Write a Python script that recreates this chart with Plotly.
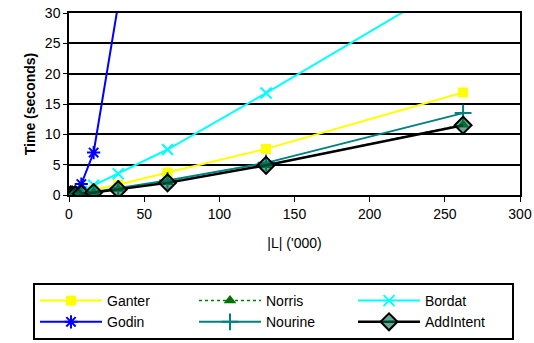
import plotly.graph_objects as go

x_vals = [1.024, 2.048, 4.096, 8.192, 16.384, 32.768, 65.536, 131.072, 262.144]
ganter = [0.02, 0.05, 0.1, 0.4, 0.8, 1.7, 3.7, 7.6, 16.9]
norris = [0.01, 0.03, 0.08, 0.2, 0.45, 1.0, 2.1, 4.9, 11.6]
bordat = [0.02, 0.05, 0.15, 0.6, 1.6, 3.5, 7.5, 16.8, 36.0]
godin = [0.05, 0.1, 0.4, 1.8, 7.0, 31.5]
nourine = [0.01, 0.03, 0.08, 0.2, 0.5, 1.1, 2.4, 5.3, 13.5]
addintent = [0.01, 0.02, 0.06, 0.2, 0.4, 0.9, 2.0, 4.9, 11.5]

FONT = "Liberation Sans, Arial, sans-serif"

fig = go.Figure()
fig.add_trace(go.Scatter(x=x_vals, y=ganter, name="Ganter", mode="lines+markers",
                         line=dict(color="#FFFF00", width=2),
                         marker=dict(symbol="square", size=10, color="#FFFF00")))
fig.add_trace(go.Scatter(x=x_vals, y=norris, name="Norris", mode="lines+markers",
                         line=dict(color="#008000", width=1.5, dash="dot"),
                         marker=dict(symbol="triangle-up", size=11, color="#007000")))
fig.add_trace(go.Scatter(x=x_vals, y=bordat, name="Bordat", mode="lines+markers",
                         line=dict(color="#00FFFF", width=2),
                         marker=dict(symbol="x-thin-open", size=11, color="#00FFFF",
                                     line=dict(color="#00FFFF", width=2))))
fig.add_trace(go.Scatter(x=x_vals[:len(godin)], y=godin, name="Godin", mode="lines+markers",
                         line=dict(color="#0000FF", width=2),
                         marker=dict(symbol="asterisk-open", size=11, color="#0000FF",
                                     line=dict(color="#0000FF", width=2))))
fig.add_trace(go.Scatter(x=x_vals, y=nourine, name="Nourine", mode="lines+markers",
                         line=dict(color="#008080", width=2),
                         marker=dict(symbol="cross-thin-open", size=12, color="#008080",
                                     line=dict(color="#008080", width=2))))
fig.add_trace(go.Scatter(x=x_vals, y=addintent, name="AddIntent", mode="lines+markers",
                         line=dict(color="#000000", width=2.5),
                         marker=dict(symbol="diamond", size=13, color="rgba(0,110,80,0.6)",
                                     line=dict(color="#000000", width=2))))

fig.update_layout(
    width=534, height=343,
    margin=dict(l=69, r=14, t=13, b=148, autoexpand=False),
    paper_bgcolor="white", plot_bgcolor="white",
    font=dict(family=FONT, size=14, color="#000000"),
    xaxis=dict(range=[0, 300], tickvals=[0, 50, 100, 150, 200, 250, 300],
               showgrid=False, zeroline=False, showline=True, linecolor="black",
               linewidth=1.5, mirror=True, ticks="outside", ticklen=5,
               tickcolor="black", tickfont=dict(size=14),
               title=dict(text="|L| ('000)", font=dict(size=14), standoff=18)),
    yaxis=dict(range=[0, 30], tickvals=[0, 5, 10, 15, 20, 25, 30],
               showgrid=True, gridcolor="black", gridwidth=1.5, zeroline=False,
               showline=True, linecolor="black", linewidth=1.5, mirror=True,
               ticks="outside", ticklen=4, tickcolor="black", tickfont=dict(size=14),
               title=dict(text="<b>Time (seconds)</b>", font=dict(size=14), standoff=6)),
    legend=dict(orientation="h", x=(33 - 69) / 451, xanchor="left",
                y=(195 - 283) / 182, yanchor="top",
                bordercolor="black", borderwidth=2,
                entrywidth=82, itemwidth=62, font=dict(size=14),
                traceorder="normal", bgcolor="white"),
    showlegend=True,
)

fig.write_html("out.html")
